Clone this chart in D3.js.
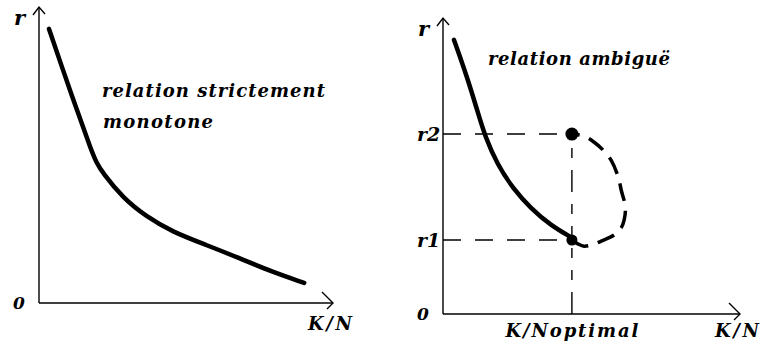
<!DOCTYPE html>
<html>
<head>
<meta charset="utf-8">
<script src="https://cdn.jsdelivr.net/npm/d3@7"></script>
<style>
  body { margin: 0; background: #fff; }
  text { font-family: "DejaVu Serif", serif; font-style: italic; font-weight: bold; fill: #000; }
</style>
</head>
<body>
<svg id="drawing_region"></svg>
<script>
// left panel : relation strictement monotone
const mono_x = [3.4, 7.8, 12.9, 17.8, 19.5, 21.7, 28.5, 36.6, 45.4, 56.9, 68.1, 79.3, 90.2];
const mono_y = [92.6, 79.7, 65.2, 51.5, 47.5, 43.9, 35.5, 29.1, 24.0, 19.6, 15.2, 10.5, 6.8];

// right panel : relation ambigue
const amb_x = [3.7, 8.1, 11.5, 14.2, 18.3, 23.7, 29.5, 36.3, 43.4];
const amb_y = [92.6, 80.1, 68.9, 59.8, 50.5, 42.2, 35.8, 29.9, 25.8];
const loop_x = [43.4, 45.4, 47.5, 50.8, 53.9, 57.6, 60.0, 61.0, 61.4, 60.0, 59.0, 56.6, 53.9, 50.8, 47.5, 43.4];
const loop_y = [25.0, 23.7, 22.9, 23.6, 24.9, 26.7, 29.1, 31.8, 36.1, 41.9, 46.3, 52.0, 55.4, 58.1, 60.1, 60.8];
const r_levels = [25.0, 60.8];
const r_labels = ["r1", "r2"];
const k_opt = 43.4;

const svg = d3.select('#drawing_region')
    .attr('width', 762)
    .attr('height', 351);

class RelationChart {
    constructor( config ) {
        this.config = config;
        this.init();
    }

    init() {
        let self = this;
        let c = self.config;
        self.chart = svg.append('g')
            .attr('transform', `translate(${c.left}, ${c.top})`);
        self.xscale = d3.scaleLinear().domain([0, 100]).range([0, c.width]);
        self.yscale = d3.scaleLinear().domain([0, 100]).range([c.height, 0]);
        self.line = d3.line()
            .x( d => self.xscale(d[0]) )
            .y( d => self.yscale(d[1]) )
            .curve( d3.curveBasis );
        self.loop = d3.line()
            .x( d => self.xscale(d[0]) )
            .y( d => self.yscale(d[1]) )
            .curve( d3.curveCatmullRom );
    }

    axes() {
        let self = this;
        let c = self.config;
        let x0 = self.xscale(0), y0 = self.yscale(0);
        let xe = c.width, yt = 0;
        let g = self.chart.append('g')
            .attr('fill', 'none')
            .attr('stroke', '#000')
            .attr('stroke-width', 1.4);
        g.append('path').attr('d', `M${x0},${y0}H${xe}`);
        g.append('path').attr('d', `M${x0},${y0}V${yt}`);
        // open arrow heads
        g.append('path').attr('d', `M${x0-6},${yt+8}L${x0},${yt}L${x0+6},${yt+7}`);
        g.append('path').attr('d', `M${xe-11},${y0-11}L${xe},${y0}L${xe-6},${y0+6}`);

        self.chart.append('text')
            .attr('x', x0 - 26).attr('y', y0 + 6)
            .attr('font-size', 17)
            .text('0');
        self.chart.append('text')
            .attr('x', x0 - 25).attr('y', yt + 18)
            .attr('font-size', 21)
            .text('r');
        self.chart.append('text')
            .attr('x', xe + 19).attr('y', y0 + c.klabel)
            .attr('text-anchor', 'end')
            .attr('font-size', 18)
            .attr('textLength', 44)
            .text('K/N');
    }

    curve( xs, ys ) {
        let self = this;
        self.chart.append('path')
            .datum( xs.map( (x, i) => [x, ys[i]] ) )
            .attr('d', self.line)
            .attr('fill', 'none')
            .attr('stroke', '#000')
            .attr('stroke-width', 4.5)
            .attr('stroke-linecap', 'round');
    }

    title( lines, widths ) {
        let self = this;
        lines.forEach( (t, i) => {
            self.chart.append('text')
                .attr('x', self.config.tx + (i == 1 ? 1 : 0))
                .attr('y', self.config.ty + i * 31)
                .attr('font-size', 18)
                .attr('textLength', widths[i])
                .text(t);
        });
    }
}

// left chart
const left = new RelationChart({ left: 39, top: 7, width: 294, height: 296, klabel: 27, tx: 63, ty: 90 });
left.axes();
left.curve( mono_x, mono_y );
left.title( ["relation strictement", "monotone"], [223, 110] );

// right chart
const right = new RelationChart({ left: 443, top: 18, width: 297, height: 296, klabel: 23, tx: 45, ty: 47 });
right.axes();

const ch = right.chart;
const xs = right.xscale, ys = right.yscale;

// dashed guides
ch.selectAll('.hguide')
    .data( r_levels )
    .enter()
    .append('line')
    .attr('x1', xs(0)).attr('x2', xs(k_opt))
    .attr('y1', d => ys(d)).attr('y2', d => ys(d))
    .attr('stroke', '#000')
    .attr('stroke-width', 1.4)
    .attr('stroke-dasharray', '18,14');

ch.append('line')
    .attr('x1', xs(k_opt)).attr('x2', xs(k_opt))
    .attr('y1', ys(0)).attr('y2', ys(d3.max(r_levels)))
    .attr('stroke', '#000')
    .attr('stroke-width', 1.4)
    .attr('stroke-dasharray', '22,12,10,12,10,12,10,12,10,12');

ch.selectAll('.rlabel')
    .data( r_levels )
    .enter()
    .append('text')
    .attr('x', xs(0) - 26)
    .attr('y', d => ys(d) + 7)
    .attr('font-size', 19)
    .text( (d, i) => r_labels[i] );

ch.append('text')
    .attr('x', xs(k_opt))
    .attr('y', ys(0) + 23)
    .attr('text-anchor', 'middle')
    .attr('font-size', 18)
    .attr('textLength', 133)
    .text('K/Noptimal');

// dashed loop
ch.append('path')
    .datum( loop_x.map( (x, i) => [x, loop_y[i]] ) )
    .attr('d', right.loop)
    .attr('fill', 'none')
    .attr('stroke', '#000')
    .attr('stroke-width', 3.5)
    .attr('stroke-dasharray', '18,10');

right.curve( amb_x, amb_y );
right.title( ["relation ambiguë"], [182] );

// points r1 and r2
ch.selectAll('.pt')
    .data( r_levels )
    .enter()
    .append('circle')
    .attr('cx', xs(k_opt))
    .attr('cy', d => ys(d))
    .attr('r', (d, i) => i == 0 ? 5.5 : 6.5)
    .attr('fill', '#000');
</script>
</body>
</html>
